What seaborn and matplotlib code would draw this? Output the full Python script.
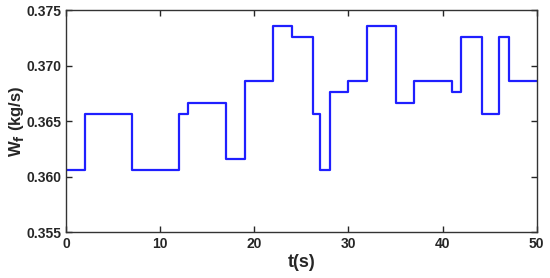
import pandas as pd
import matplotlib
matplotlib.use("Agg")
import matplotlib.pyplot as plt
import seaborn as sns

# step change times (s) and fuel flow levels (kg/s)
t = [0, 2, 7, 12, 13, 17, 19, 22, 24, 26.2, 27, 28, 30, 32, 35, 37, 41, 42, 44.2, 46, 47, 50]
wf = [0.3606, 0.3656, 0.3606, 0.3656, 0.3666, 0.3616, 0.3686, 0.3736, 0.3726, 0.3656, 0.3606,
      0.3676, 0.3686, 0.3736, 0.3666, 0.3686, 0.3676, 0.3726, 0.3656, 0.3726, 0.3686, 0.3686]
xticks = [0, 10, 20, 30, 40, 50]
yticks = [0.355, 0.360, 0.365, 0.370, 0.375]

df = pd.DataFrame({"t": t, "wf": wf})

sns.set_style("ticks")
plt.rcParams['font.family'] = ['Liberation Sans', 'DejaVu Sans']
plt.rcParams['font.weight'] = 'bold'
plt.rcParams['mathtext.default'] = 'bf'

fig = plt.figure(figsize=(5.5, 2.78), dpi=100)
ax = fig.add_axes([0.12, 0.165, 0.856, 0.799])

sns.lineplot(data=df, x="t", y="wf", ax=ax, drawstyle="steps-post", color="#1f1fff", linewidth=1.6)

ax.set_xlim(0, 50)
ax.set_ylim(0.355, 0.375)
ax.set_xticks(xticks)
ax.set_yticks(yticks)
ax.set_yticklabels([f"{v:.3f}" for v in yticks])
ax.tick_params(direction="in", top=True, right=True, length=4, width=1, labelsize=10)
for lab in ax.get_xticklabels() + ax.get_yticklabels():
    lab.set_fontweight("bold")
for s in ax.spines.values():
    s.set_linewidth(1)
    s.set_color("#333333")

ax.set_xlabel("t(s)", fontsize=13, fontweight="bold", labelpad=2)
ax.set_ylabel(r"W$_{f}$ (kg/s)", fontsize=12, fontweight="bold")
ax.yaxis.set_label_coords(-0.085, 0.5)

fig.savefig("out.png", dpi=100)
